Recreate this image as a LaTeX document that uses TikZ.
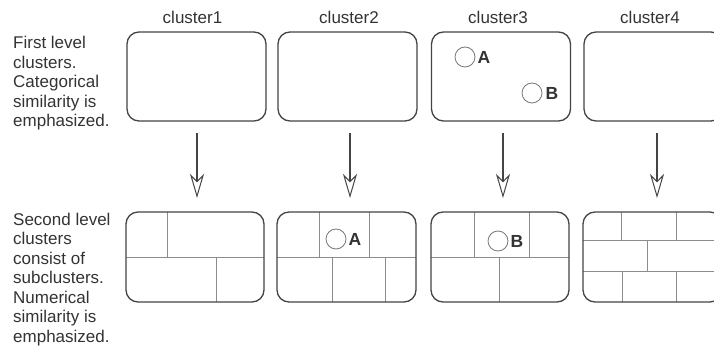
\documentclass[tikz,border=0pt]{standalone}
\usepackage{fontspec}
\setmainfont{Liberation Sans}
\usetikzlibrary{arrows.meta}
\definecolor{txt}{HTML}{333333}
\definecolor{boxc}{HTML}{444444}
\definecolor{divc}{HTML}{8C8C8C}
\definecolor{circc}{HTML}{777777}
\begin{document}
\begin{tikzpicture}[x=1pt,y=-1pt,
  box/.style={draw=boxc, line width=1.3pt, rounded corners=12pt, minimum width=139pt, minimum height=89pt, inner sep=0pt, outer sep=0pt},
  div/.style={draw=divc, line width=1pt},
  circ/.style={circle, draw=circc, line width=0.8pt, minimum size=20pt, inner sep=0pt},
  lab/.style={font=\fontsize{17.5}{17.5}\selectfont\bfseries, text=txt, inner sep=0pt, anchor=west},
  head/.style={font=\fontsize{17}{17}\selectfont, text=txt, inner sep=0pt, anchor=base},
  side/.style={font=\fontsize{17}{19.5}\selectfont, text=txt, inner sep=0pt, anchor=north west, align=left},
  arr/.style={draw=boxc, line width=1.2pt, -{Stealth[open, length=24pt, width=14pt, inset=7pt, line width=1pt]}, shorten <=12pt, shorten >=14pt}
]
\useasboundingbox (0,0) rectangle (714,347);

% headers
\node[head] (h1) at (192.5,23.5) {cluster1};
\node[head] (h2) at (349,23.5) {cluster2};
\node[head] (h3) at (498,23.5) {cluster3};
\node[head] (h4) at (650,23.5) {cluster4};

% side texts
\node[side] (s1) at (13,36.3) {First level\\clusters.\\Categorical\\similarity is\\emphasized.};
\node[side] (s2) at (13,212.8) {Second level\\clusters\\consist of\\subclusters.\\Numerical\\similarity is\\emphasized.};

% top boxes
\node[box] (t1) at (196.5,76.5) {};
\node[box] (t2) at (347.5,76.5) {};
\node[box] (t3) at (501,76.5) {};
\node[box] (t4) at (653.5,76.5) {};

% bottom boxes dividers
\draw[div] (126,257) -- (264,257);
\draw[div] (167,212) -- (167,257);
\draw[div] (216,257) -- (216,302);

\draw[div] (277,257) -- (416,257);
\draw[div] (319,212) -- (319,257);
\draw[div] (369,212) -- (369,257);
\draw[div] (332,257) -- (332,302);
\draw[div] (385,257) -- (385,302);

\draw[div] (431,257) -- (569,257);
\draw[div] (474,212) -- (474,257);
\draw[div] (529,212) -- (529,257);
\draw[div] (499,257) -- (499,302);

\draw[div] (583,241) -- (722,241);
\draw[div] (583,271) -- (722,271);
\draw[div] (621,212) -- (621,241);
\draw[div] (676,212) -- (676,241);
\draw[div] (647,241) -- (647,271);
\draw[div] (622,271) -- (622,302);
\draw[div] (676,271) -- (676,302);

% bottom boxes
\node[box, minimum height=90pt, minimum width=138pt] (b1) at (195,257) {};
\node[box, minimum height=90pt] (b2) at (346.5,257) {};
\node[box, minimum height=90pt, minimum width=138pt] (b3) at (500,257) {};
\node[box, minimum height=90pt] (b4) at (652.5,257) {};

% circles and labels
\node[circ] (c3a) at (465,57) {};
\node[lab] (l3a) at ([xshift=2pt]c3a.east) {A};
\node[circ] (c3b) at (532,93) {};
\node[lab] (l3b) at ([xshift=3pt]c3b.east) {B};
\node[circ] (c2a) at (336,239) {};
\node[lab] (l2a) at ([xshift=2pt]c2a.east) {A};
\node[circ] (c3bb) at (498,241) {};
\node[lab] (l3bb) at ([xshift=2pt]c3bb.east) {B};

% arrows
\draw[arr] ([xshift=0.5pt]t1.south) -- ([xshift=2pt]b1.north);
\draw[arr] ([xshift=2.5pt]t2.south) -- ([xshift=3.5pt]b2.north);
\draw[arr] ([xshift=2pt]t3.south) -- ([xshift=3pt]b3.north);
\draw[arr] ([xshift=3.5pt]t4.south) -- ([xshift=4.5pt]b4.north);
\end{tikzpicture}
\end{document}
